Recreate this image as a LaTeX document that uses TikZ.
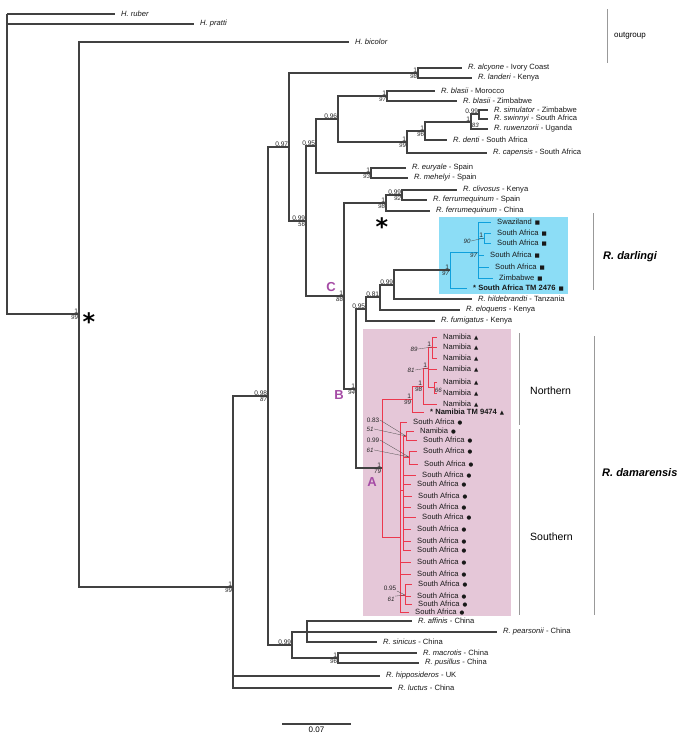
\documentclass[tikz,border=0pt]{standalone}
\usepackage{fontspec}
\setmainfont{Liberation Sans}
\newfontfamily\markfont{DejaVu Sans}
\usetikzlibrary{positioning}

\definecolor{treegray}{RGB}{65,65,65}
\definecolor{darlfill}{RGB}{140,221,246}
\definecolor{darlline}{RGB}{15,160,220}
\definecolor{damafill}{RGB}{229,199,216}
\definecolor{damaline}{RGB}{236,56,78}
\definecolor{lettercol}{RGB}{165,75,165}

\newcommand{\sqmark}{\hspace{3pt}{\markfont\fontsize{5.5}{6}\selectfont ■}}
\newcommand{\trimark}{\hspace{3pt}{\markfont\fontsize{5.5}{6}\selectfont ▲}}
\newcommand{\dotmark}{\hspace{3pt}{\markfont\fontsize{5.5}{6}\selectfont ●}}

\begin{document}
\begin{tikzpicture}[x=1pt,y=-1pt,
    br/.style={draw=treegray,line width=1.05pt},
    blue br/.style={draw=darlline,line width=1pt},
    red br/.style={draw=damaline,line width=1pt},
    tip/.style={anchor=west,inner xsep=6pt,inner ysep=0pt,text=black!90,font=\fontsize{7.6}{8}\selectfont},
    pp/.style={above left,inner sep=0.7pt,text=black!85,font=\fontsize{6.6}{7}\selectfont},
    bs/.style={below left,inner sep=0.7pt,text=black!85,font=\fontsize{6.2}{7}\selectfont\itshape},
    lab/.style={inner sep=0.5pt,text=black!85,font=\fontsize{6.4}{7}\selectfont},
    leader/.style={draw=black!70,line width=0.3pt},
    side bar/.style={draw=gray!80,line width=0.7pt},
    clade letter/.style={text=lettercol,font=\fontsize{13}{13}\selectfont\bfseries},
    star/.style={font=\markfont\fontsize{24}{24}\selectfont\bfseries,inner sep=0pt}]

\useasboundingbox (0,0) rectangle (683,744);

% clade boxes
\fill[darlfill] (439,217) rectangle (568,294);
\fill[damafill] (363,329) rectangle (511,616);

% internal nodes (x of vertical, y of stem)
\coordinate (root) at (7,14);
\coordinate (n79) at (79,314);
\coordinate (n233) at (233,587);
\coordinate (n268) at (268,396);
\coordinate (n289) at (289,147);
\coordinate (n418) at (418,73);
\coordinate (n306) at (306,221);
\coordinate (n316) at (316,146);
\coordinate (n338) at (338,119);
\coordinate (n387) at (387,96);
\coordinate (n407) at (407,142);
\coordinate (n425) at (425,131);
\coordinate (n471) at (471,122);
\coordinate (n479) at (479,114);
\coordinate (n371) at (371,173);
\coordinate (n344) at (344,296);
\coordinate (n386) at (386,203);
\coordinate (n402) at (402,195);
\coordinate (n356) at (356,389);
\coordinate (n366) at (366,309);
\coordinate (n380) at (380,297);
\coordinate (n394) at (394,285);
\coordinate (n450) at (450,270);
\coordinate (n478) at (478,252);
\coordinate (n484) at (484,238);
\coordinate (n382) at (382,468);
\coordinate (n412) at (412,399);
\coordinate (n423) at (423,386);
\coordinate (n428) at (428,368);
\coordinate (n432) at (432,347);
\coordinate (n436) at (434,387);
\coordinate (n400) at (400,537);
\coordinate (n403) at (403,490);
\coordinate (n406) at (406,436);
\coordinate (n409) at (409,457);
\coordinate (n405) at (405,595);
\coordinate (n292) at (292,645);
\coordinate (n307) at (307,632);
\coordinate (n338b) at (338,658);

% tips
\node[tip] (ruber) at (115,14) {\textit{H. ruber}};
\node[tip] (pratti) at (194,24) {\textit{H. pratti}};
\node[tip] (bicolor) at (349,42) {\textit{H. bicolor}};
\node[tip] (alcyone) at (462,68) {\textit{R. alcyone} - Ivory Coast};
\node[tip] (landeri) at (472,78) {\textit{R. landeri} - Kenya};
\node[tip] (blasiiM) at (435,91) {\textit{R. blasii} - Morocco};
\node[tip] (blasiiZ) at (457,101) {\textit{R. blasii} -  Zimbabwe};
\node[tip] (simulator) at (488,110) {\textit{R. simulator} - Zimbabwe};
\node[tip] (swinnyi) at (488,119) {\textit{R. swinnyi} - South Africa};
\node[tip] (ruwenzorii) at (488,129) {\textit{R. ruwenzorii} - Uganda};
\node[tip] (denti) at (447,140) {\textit{R. denti} - South Africa};
\node[tip] (capensis) at (487,153) {\textit{R. capensis} - South Africa};
\node[tip] (euryale) at (406,168) {\textit{R. euryale} - Spain};
\node[tip] (mehelyi) at (408,178) {\textit{R. mehelyi} - Spain};
\node[tip] (clivosus) at (457,190) {\textit{R. clivosus} - Kenya};
\node[tip] (ferrumS) at (427,200) {\textit{R. ferrumequinum} - Spain};
\node[tip] (ferrumC) at (430,211) {\textit{R. ferrumequinum} - China};
\node[tip] (dSwa) at (491,222) {Swaziland\sqmark};
\node[tip] (dSA1) at (491,233) {South Africa\sqmark};
\node[tip] (dSA2) at (491,243) {South Africa\sqmark};
\node[tip] (dSA3) at (484,255) {South Africa\sqmark};
\node[tip] (dSA4) at (489,267) {South Africa\sqmark};
\node[tip] (dZim) at (493,278) {Zimbabwe\sqmark};
\node[tip] (dTM) at (467,288) {\bfseries * South Africa TM 2476\sqmark};
\node[tip] (hildebrandti) at (472,299) {\textit{R. hildebrandti} - Tanzania};
\node[tip] (eloquens) at (460,310) {\textit{R. eloquens} - Kenya};
\node[tip] (fumigatus) at (435,321) {\textit{R. fumigatus} - Kenya};
\foreach \n/\y in {1/337,2/347,3/358,4/369,5/382,6/393,7/404}
  \node[tip] (nN\n) at (437,\y) {Namibia\trimark};
\node[tip] (nTM) at (424,412) {\bfseries * Namibia TM 9474\trimark};
\foreach \n/\y/\x/\t in {1/422/407/South Africa,2/431/414/Namibia,3/440/417/South Africa,
    4/451/417/South Africa,5/464/418/South Africa,6/475/416/South Africa,7/484/411/South Africa,
    8/496/412/South Africa,9/507/411/South Africa,10/517/416/South Africa,11/529/411/South Africa,
    12/541/411/South Africa,13/550/411/South Africa,14/562/411/South Africa,15/574/411/South Africa,
    16/584/412/South Africa,17/596/411/South Africa,18/604/412/South Africa,19/612/409/South Africa}
  \node[tip] (s\n) at (\x,\y) {\t\dotmark};
\node[tip] (affinis) at (412,621) {\textit{R. affinis} - China};
\node[tip] (pearsonii) at (497,632) {\textit{R. pearsonii} - China};
\node[tip] (sinicus) at (377,642) {\textit{R. sinicus} - China};
\node[tip] (macrotis) at (417,653) {\textit{R. macrotis} - China};
\node[tip] (pusillus) at (419,663) {\textit{R. pusillus} - China};
\node[tip] (hipposideros) at (380,676) {\textit{R. hipposideros} - UK};
\node[tip] (luctus) at (392,688) {\textit{R. luctus} - China};

% branches
\draw[br] (root) |- (ruber.west) (root) |- (pratti.west) (root) |- (n79)
  (n79) |- (bicolor.west) (n79) |- (n233)
  (n233) |- (n268) (n233) |- (hipposideros.west) (n233) |- (luctus.west)
  (n268) |- (n289) (n268) |- (n292)
  (n289) |- (n418) (n289) |- (n306)
  (n418) |- (alcyone.west) (n418) |- (landeri.west)
  (n306) |- (n316) (n306) |- (n344)
  (n316) |- (n338) (n316) |- (n371)
  (n338) |- (n387) (n338) |- (n407)
  (n387) |- (blasiiM.west) (n387) |- (blasiiZ.west)
  (n407) |- (n425) (n407) |- (capensis.west)
  (n425) |- (n471) (n425) |- (denti.west)
  (n471) |- (n479) (n471) |- (ruwenzorii.west)
  (n479) |- (simulator.west) (n479) |- (swinnyi.west)
  (n371) |- (euryale.west) (n371) |- (mehelyi.west)
  (n344) |- (n386) (n344) |- (n356)
  (n386) |- (n402) (n386) |- (ferrumC.west)
  (n402) |- (clivosus.west) (n402) |- (ferrumS.west)
  (n356) |- (n366) (n356) |- (n382)
  (n366) |- (n380) (n366) |- (fumigatus.west)
  (n380) |- (n394) (n380) |- (eloquens.west)
  (n394) |- (n450) (n394) |- (hildebrandti.west)
  (n292) |- (n307) (n292) |- (n338b)
  (n307) |- (affinis.west) (n307) |- (pearsonii.west) (n307) |- (sinicus.west)
  (n338b) |- (macrotis.west) (n338b) |- (pusillus.west);
\draw[blue br] (n450) |- (n478) (n450) |- (dTM.west)
  (n478) |- (dSwa.west) (n478) |- (n484) (n478) |- (dSA3.west)
  (n478) |- (dSA4.west) (n478) |- (dZim.west)
  (n484) |- (dSA1.west) (n484) |- (dSA2.west);
\draw[red br] (n382) |- (n412) (n382) |- (n400)
  (n412) |- (n423) (n412) |- (nTM.west)
  (n423) |- (n428) (n423) |- (nN7.west)
  (n428) |- (n432) (n428) |- (nN4.west) (n428) |- (n436)
  (n432) |- (nN1.west) (n432) |- (nN2.west) (n432) |- (nN3.west)
  (n436) |- (nN5.west) (n436) |- (nN6.west)
  (n400) |- (s1.west) (n400) |- (n403) (n400) |- (s14.west)
  (n400) |- (s15.west) (n400) |- (n405) (n400) |- (s19.west)
  (n403) |- (n406) (n403) |- (n409)
  (n406) |- (s2.west) (n406) |- (s3.west)
  (n409) |- (s4.west) (n409) |- (s5.west)
  (n405) |- (s16.west) (n405) |- (s17.west) (n405) |- (s18.west);
\foreach \n in {6,...,13}
  \draw[red br] (n403) |- (s\n.west);

% support values
\node[pp] at (n79) {1};     \node[bs] at (n79) {99};
\node[pp] at (n233) {1};    \node[bs] at (n233) {99};
\node[pp] at (n268) {0.98}; \node[bs] at (n268) {87};
\node[pp] at (n289) {0.97};
\node[pp] at (n418) {1};    \node[bs] at (n418) {98};
\node[pp] at (n306) {0.99}; \node[bs] at (n306) {56};
\node[pp] at (n316) {0.95};
\node[pp] at (n338) {0.96};
\node[pp] at (n387) {1};    \node[bs] at (n387) {97};
\node[pp] at (n407) {1};    \node[bs] at (n407) {99};
\node[pp] at (n425) {1};    \node[bs] at (n425) {96};
\node[pp] at (n471) {1};    \node[bs,below right] at (n471) {83};
\node[pp] at (n479) {0.99};
\node[pp] at (n371) {1};    \node[bs] at (n371) {93};
\node[pp] at (n344) {1};    \node[bs] at (n344) {88};
\node[pp] at (n386) {1};    \node[bs] at (n386) {98};
\node[pp] at (n402) {0.99}; \node[bs] at (n402) {92};
\node[pp] at (n356) {1};    \node[bs] at (n356) {94};
\node[pp] at (n366) {0.95};
\node[pp] at (n380) {0.81};
\node[pp] at (n394) {0.99};
\node[pp] at (n450) {1};    \node[bs] at (n450) {97};
\node[bs] at (n478) {97};
\node[pp] at (n484) {1};
\node[pp] at (n382) {1};    \node[bs] at (n382) {79};
\node[pp] at (n412) {1};    \node[bs] at (n412) {99};
\node[pp] at (n423) {1};    \node[bs] at (n423) {98};
\node[pp] at (n428) {1};
\node[pp] at (n432) {1};
\node[bs,below right] at (n436) {66};
\node[pp] at (n292) {0.99};
\node[pp] at (n338b) {1};   \node[bs] at (n338b) {96};

% labels with leader lines
\node[lab,font=\fontsize{6.2}{7}\selectfont\itshape] (l90) at (467,241) {90};
\node[lab,font=\fontsize{6.2}{7}\selectfont\itshape] (l89) at (414,349) {89};
\node[lab,font=\fontsize{6.2}{7}\selectfont\itshape] (l81) at (411,370) {81};
\node[lab] (l083) at (373,420) {0.83};
\node[lab,font=\fontsize{6.2}{7}\selectfont\itshape] (l51) at (370,429) {51};
\node[lab] (l099) at (373,440) {0.99};
\node[lab,font=\fontsize{6.2}{7}\selectfont\itshape] (l61) at (370,450) {61};
\node[lab] (l095) at (390,588) {0.95};
\node[lab,font=\fontsize{6.2}{7}\selectfont\itshape] (l61b) at (391,599) {61};
\draw[leader] (l90.east) -- (n484) (l89.east) -- (n432) (l81.east) -- (n428)
  (l083.east) -- (n406) (l51.east) -- (n406) (l099.east) -- (n409) (l61.east) -- (n409)
  (l095.south east) -- (n405) (l61b.north east) -- (n405);

% clade letters and stars
\node[clade letter] at (331,287) {C};
\node[clade letter] at (339,395) {B};
\node[clade letter] at (372,482) {A};
\node[star] at (89,322) {*};
\node[star] at (382,227) {*};

% side bars
\draw[side bar] (607,9) -- (607,63);
\node[anchor=west,inner sep=0pt,font=\fontsize{8}{9}\selectfont] at (614,36) {outgroup};
\draw[side bar] (593,213) -- (593,290);
\node[anchor=west,inner sep=0pt,font=\fontsize{11}{12}\selectfont\bfseries\itshape] at (603,257) {R. darlingi};
\draw[side bar] (519,333) -- (519,425);
\node[anchor=west,inner sep=0pt,font=\fontsize{10.5}{12}\selectfont] at (530,391) {Northern};
\draw[side bar] (519,429) -- (519,615);
\node[anchor=west,inner sep=0pt,font=\fontsize{10.5}{12}\selectfont] at (530,537) {Southern};
\draw[side bar] (594,336) -- (594,615);
\node[anchor=west,inner sep=0pt,font=\fontsize{11}{12}\selectfont\bfseries\itshape] at (602,473) {R. damarensis};

% scale bar
\draw[br] (282,724) -- node[below=2pt,inner sep=0pt,font=\fontsize{8}{9}\selectfont] {0.07} (351,724);

\end{tikzpicture}
\end{document}
